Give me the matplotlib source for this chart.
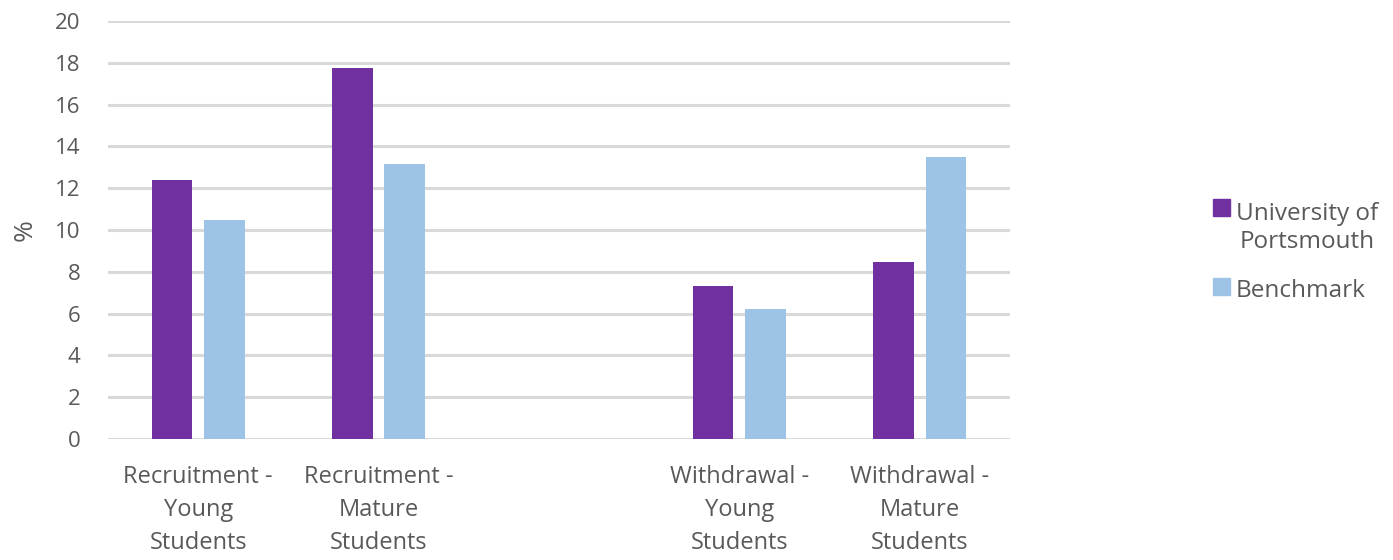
import numpy as np
import matplotlib
matplotlib.use("Agg")
import matplotlib.pyplot as plt
from matplotlib.patches import Rectangle

plt.rcParams['font.family'] = ['Open Sans', 'DejaVu Sans']

# data (the empty slot is the gap between the two groups)
categories = ["Recruitment -\nYoung\nStudents", "Recruitment -\nMature\nStudents", "",
              "Withdrawal -\nYoung\nStudents", "Withdrawal -\nMature\nStudents"]
portsmouth = [12.4, 17.75, np.nan, 7.3, 8.45]
benchmark = [10.5, 13.15, np.nan, 6.2, 13.5]
series_names = ["University of\nPortsmouth", "Benchmark"]
yticks = list(range(0, 21, 2))

purple = "#7030A0"
blue = "#9DC3E6"
text_col = "#595959"
W, H = 1393, 560

fig = plt.figure(figsize=(W / 100, H / 100), dpi=100)
ax = fig.add_axes([0.0775, 0.216, 0.6475, 0.7465])

x = np.arange(len(categories))
w = 0.225
ax.bar(x - 0.145, portsmouth, w, color=purple, zorder=3)
ax.bar(x + 0.145, benchmark, w, color=blue, zorder=3)

ax.set_xlim(-0.5, len(categories) - 0.5)
ax.set_ylim(0, 20)
ax.set_yticks(yticks)
for t in yticks:
    ax.axhline(t, color="#d9d9d9", lw=2.2, zorder=1)

ax.set_xticks(x)
ax.set_xticklabels(categories, linespacing=1.48, fontsize=17, color=text_col)
ax.tick_params(axis='x', length=0, pad=19)
ax.tick_params(axis='y', length=0, pad=20, labelsize=16, labelcolor=text_col)
for s in ax.spines.values():
    s.set_visible(False)

ax.set_ylabel("%", fontsize=19, color=text_col, labelpad=12)

# legend, square beside the first line of each entry
legend_rows = [(series_names[0], purple, 218), (series_names[1], blue, 297)]
for name, col, base in legend_rows:
    nlines = name.count("\n")
    fig.patches.append(Rectangle((1213 / W, 1 - (base - 2) / H), 17 / W, 17 / H,
                                 transform=fig.transFigure, color=col))
    # anchor on the last line's baseline
    fig.text(1236 / W, 1 - (base + 30 * nlines) / H, name, fontsize=17.5,
             color=text_col, va="baseline", ha="left", multialignment="center",
             linespacing=1.25)

fig.savefig("out.png", dpi=100)
